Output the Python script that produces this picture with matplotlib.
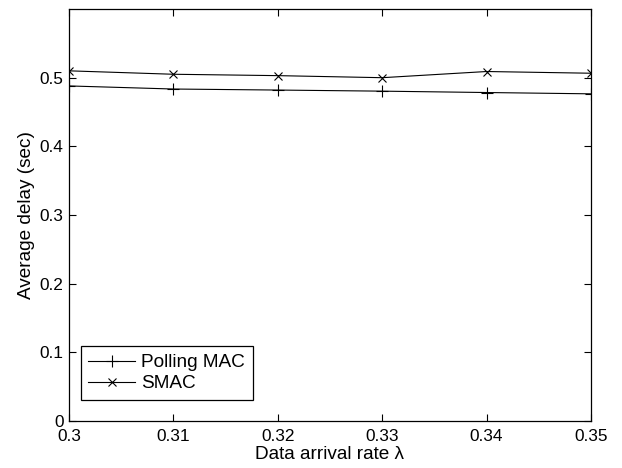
import matplotlib
matplotlib.use('Agg')
import matplotlib.pyplot as plt

rates = [0.30, 0.31, 0.32, 0.33, 0.34, 0.35]
polling_delay = [0.488, 0.4835, 0.482, 0.4804, 0.4784, 0.4765]
smac_delay = [0.510, 0.505, 0.503, 0.500, 0.509, 0.5065]

x_labels = ['0.3', '0.31', '0.32', '0.33', '0.34', '0.35']
y_ticks = [0, 0.1, 0.2, 0.3, 0.4, 0.5]
y_labels = ['0', '0.1', '0.2', '0.3', '0.4', '0.5']

plt.rcParams['font.family'] = ['Liberation Sans', 'DejaVu Sans']
plt.rcParams['font.size'] = 13.7

fig = plt.figure(figsize=(6.22, 4.68), dpi=100)
ax = fig.add_axes([0.1109, 0.1004, 0.8392, 0.8803])

ax.plot(rates, polling_delay, color='black', lw=0.8, marker='+', ms=8.6, mew=0.8, label='Polling MAC')
ax.plot(rates, smac_delay, color='black', lw=0.8, marker='x', ms=6.2, mew=0.8, label='SMAC')

ax.set_xlim(0.3, 0.35)
ax.set_ylim(0, 0.6)
ax.set_xticks(rates)
ax.set_xticklabels(x_labels)
ax.set_yticks(y_ticks)
ax.set_yticklabels(y_labels)
ax.tick_params(direction='in', length=5, width=0.8, labelsize=12.4,
               top=True, right=True)
ax.tick_params(axis='x', pad=6)
ax.tick_params(axis='y', pad=4)
for s in ax.spines.values():
    s.set_linewidth(0.9)

ax.set_xlabel('Data arrival rate λ', labelpad=1.5)
ax.set_ylabel('Average delay (sec)', labelpad=3.4)

leg = ax.legend(loc='lower left', bbox_to_anchor=(0.0224, 0.051), frameon=True, fancybox=False,
                edgecolor='black', framealpha=1, handlelength=2.47, borderpad=0.4,
                labelspacing=0.2, handletextpad=0.32, borderaxespad=0)
leg.get_frame().set_linewidth(0.9)

fig.savefig('out.png', dpi=100)
